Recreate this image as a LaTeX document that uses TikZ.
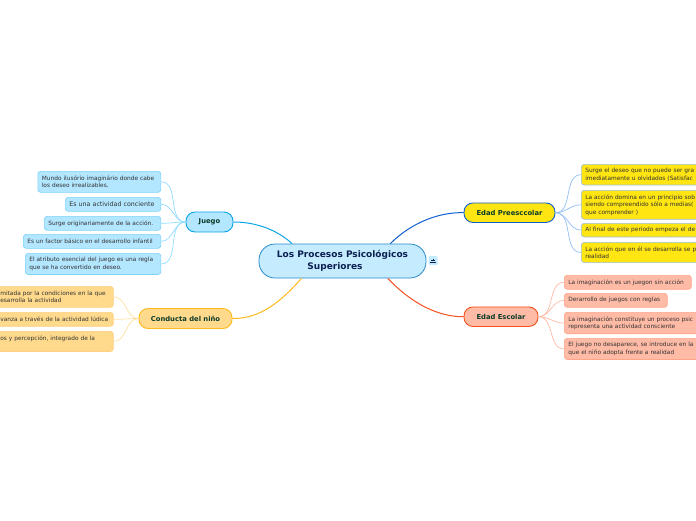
\documentclass[tikz,border=0pt]{standalone}
\usepackage{fontspec}
\setmainfont{DejaVu Sans}
\definecolor{rootfill}{HTML}{C5EBFF}
\definecolor{rootline}{HTML}{2A8BCB}
\definecolor{rootink}{HTML}{0B2050}
\definecolor{kidink}{HTML}{0B3B2A}
\definecolor{leafink}{HTML}{333333}
\definecolor{juegofill}{HTML}{B3E6FF}
\definecolor{juegoline}{HTML}{0AA5E8}
\definecolor{juegoleaf}{HTML}{7FD3FA}
\definecolor{juegolink}{HTML}{8FDCFF}
\definecolor{condfill}{HTML}{FFDA8C}
\definecolor{condline}{HTML}{FFB91D}
\definecolor{condleaf}{HTML}{FFD080}
\definecolor{condlink}{HTML}{FFDFA0}
\definecolor{presfill}{HTML}{FFE511}
\definecolor{presline}{HTML}{0F5FD0}
\definecolor{presleaf}{HTML}{9DBEDC}
\definecolor{preslink}{HTML}{94BEF2}
\definecolor{escfill}{HTML}{FFBBA6}
\definecolor{escline}{HTML}{F4511E}
\definecolor{escleaf}{HTML}{FFA58A}
\definecolor{esclink}{HTML}{FFBBA6}
\tikzset{
  rootbox/.style={draw=rootline, fill=rootfill, text=rootink, line width=0.8pt, rounded corners=16pt, align=center, font=\fontsize{9}{12.5}\selectfont\bfseries},
  kidbox/.style={line width=0.9pt, rounded corners=9pt, text=kidink, font=\fontsize{6.8}{8}\selectfont\bfseries},
  leafbox/.style={anchor=north west, line width=0.7pt, rounded corners=3pt, inner sep=4pt, align=left, text=leafink, font=\fontsize{5.85}{7.5}\selectfont},
  branch/.style={line width=1pt},
  twig/.style={line width=0.7pt}
}
\begin{document}
\begin{tikzpicture}[x=1pt,y=-1pt]
  \useasboundingbox (0,0) rectangle (696,520);
  \clip (0,0) rectangle (696,520);
  % Root
  \node[rootbox, minimum width=167pt, minimum height=34pt] (root) at (342.5,261) {Los Procesos Psicológicos\\Superiores\hspace*{15pt}};
  \node[fill=rootfill, minimum width=9pt, minimum height=9pt, inner sep=0pt, rounded corners=1pt] (fold) at (433,260.5) {};
  \draw[rootink, line width=0.8pt] (429.8,262.6) -- (436.2,262.6);
  \draw[rootink, line width=0.8pt] (431,260.2) -- (435,260.2) (433,260.2) -- (433,258.6);

  % Topics
  \node[kidbox, draw=juegoline, fill=juegofill, minimum width=47pt, minimum height=20pt] (juego) at (209.5,222) {Juego};
  \node[kidbox, draw=condline, fill=condfill, minimum width=93pt, minimum height=20pt] (cond) at (185.5,318.5) {Conducta del niño};
  \node[kidbox, draw=presline, fill=presfill, minimum width=91pt, minimum height=19.5pt] (pres) at (509.5,212.7) {Edad Preesccolar};
  \node[kidbox, draw=escline, fill=escfill, minimum width=74pt, minimum height=19.5pt] (esc) at (501,316.7) {Edad Escolar};

  % Juego
  \node[leafbox, draw=juegoleaf, fill=juegofill, text width=115pt, minimum height=21pt] (j1) at (37.5,171) {Mundo ilusório imaginário donde cabe\\los deseo irrealizables.};
  \node[leafbox, draw=juegoleaf, fill=juegofill, text width=87.5pt, minimum height=14pt, font=\fontsize{6.3}{8}\selectfont] (j2) at (65,197) {Es una actividad conciente};
  \node[leafbox, draw=juegoleaf, fill=juegofill, text width=108.5pt, minimum height=14pt] (j3) at (44,216) {Surge originariamente de la acción.};
  \node[leafbox, draw=juegoleaf, fill=juegofill, text width=129.5pt, minimum height=14pt] (j4) at (23,234) {Es un factor básico en el desarrollo infantil};
  \node[leafbox, draw=juegoleaf, fill=juegofill, text width=127.5pt, minimum height=21pt] (j5) at (25,253) {El atributo esencial del juego es una regla\\que se ha convertido en deseo.};

  % Conducta
  \node[leafbox, draw=condleaf, fill=condfill, text width=109pt, minimum height=21pt] (c1) at (-4,286) {mitada por la condiciones en la que\\esarrolla la actividad};
  \node[leafbox, draw=condleaf, fill=condfill, text width=109pt, minimum height=14pt] (c2) at (-4,312) {vanza a través de la actividad lúdica};
  \node[leafbox, draw=condleaf, fill=condfill, text width=109pt, minimum height=20pt] (c3) at (-4,331) {os y percepción, integrado de la\\\mbox{}};

  % Preescolar
  \node[leafbox, draw=presleaf, fill=presfill, text width=130pt, minimum height=20pt] (p1) at (581,164) {Surge el deseo que no puede ser gra\\imediatamente u olvidados (Satisfac};
  \node[leafbox, draw=presleaf, fill=presfill, text width=130pt, minimum height=27pt] (p2) at (581,190) {La acción domina en un principio sob\\siendo compreendido sólo a medias(\\que comprender )};
  \node[leafbox, draw=presleaf, fill=presfill, text width=130pt, minimum height=13pt] (p3) at (581,223) {Al final de este periodo empeza el de};
  \node[leafbox, draw=presleaf, fill=presfill, text width=130pt, minimum height=20pt] (p4) at (581,242) {La acción que en él se desarrolla se p\\realidad};

  % Escolar
  \node[leafbox, draw=escleaf, fill=escfill, text width=119pt, minimum height=13pt] (e1) at (564,275) {La imaginación es un juegon sin acción};
  \node[leafbox, draw=escleaf, fill=escfill, text width=95pt, minimum height=14pt] (e2) at (564,293) {Derarrollo de juegos con reglas};
  \node[leafbox, draw=escleaf, fill=escfill, text width=147pt, minimum height=20pt] (e3) at (564,312) {La imaginación constituye un proceso psic\\representa una actividad consciente};
  \node[leafbox, draw=escleaf, fill=escfill, text width=147pt, minimum height=20pt] (e4) at (564,338) {El juego no desaparece, se introduce en la\\que el niño adopta frente a realidad};

  % Branches
  \draw[branch, juegoline] (juego.east) .. controls (263,222) and (283,235) .. (root.161);
  \draw[branch, condline] (cond.east) .. controls (262,319) and (283,299) .. (root.203);
  \draw[branch, presline] (pres.west) .. controls (440,212) and (412,222) .. (root.20);
  \draw[branch, escline] (esc.west) .. controls (437,317) and (410,302) .. (root.-21);

  % Twigs
  \foreach \leaf in {j1,j2,j3,j4,j5}
    \draw[twig, juegolink] (juego.west) to[out=180,in=0] (\leaf.east);
  \foreach \leaf in {c1,c2,c3}
    \draw[twig, condlink] (cond.west) to[out=180,in=0] (\leaf.east);
  \foreach \leaf in {p1,p2,p3,p4}
    \draw[twig, preslink] (pres.east) to[out=0,in=180] (\leaf.west);
  \foreach \leaf in {e1,e2,e3,e4}
    \draw[twig, esclink] (esc.east) to[out=0,in=180] (\leaf.west);
\end{tikzpicture}
\end{document}
